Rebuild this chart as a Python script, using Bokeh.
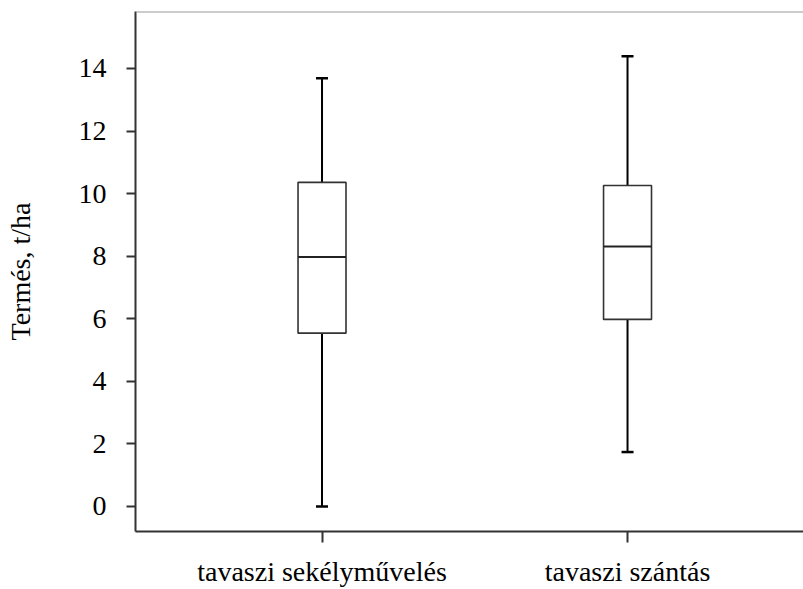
from bokeh.plotting import figure
from bokeh.models import ColumnDataSource, Whisker, TeeHead, FixedTicker, Range1d, Span
from bokeh.transform import dodge
from bokeh.embed import file_html
from bokeh.resources import INLINE

# Yield distribution per tillage method (t/ha)
categories = ["tavaszi sekélyművelés", "tavaszi szántás"]
minimum = [0.0, 1.74]
q1 = [5.54, 5.98]
median = [7.97, 8.31]
q3 = [10.36, 10.26]
maximum = [13.69, 14.39]
y_ticks = [0, 2, 4, 6, 8, 10, 12, 14]

positions = [i + 1 for i in range(len(categories))]
src = ColumnDataSource(dict(x=positions, lo=minimum, q1=q1, med=median, q3=q3, hi=maximum))

FONT = "Liberation Serif"
BOX_W = 0.157
Y_TOP = 15.82

p = figure(width=803, height=589, output_backend="svg", toolbar_location=None,
           x_range=Range1d(0.3895, 2.576), y_range=Range1d(-0.799, Y_TOP),
           min_border_left=135, min_border_right=0, min_border_top=11, min_border_bottom=58)
p.background_fill_color = "white"
p.border_fill_color = "white"
p.outline_line_color = None
p.xgrid.visible = False
p.ygrid.visible = False

# thin grey rule along the top of the plot area
p.add_layout(Span(location=Y_TOP, dimension="width", line_color="#999999", line_width=2))

# whiskers: box edge to extreme value, with short caps
p.add_layout(Whisker(source=src, base="x", lower="q3", upper="hi", dimension="height",
                     line_color="black", line_width=2,
                     upper_head=TeeHead(size=12, line_color="black", line_width=2.5),
                     lower_head=None))
p.add_layout(Whisker(source=src, base="x", lower="lo", upper="q1", dimension="height",
                     line_color="black", line_width=2,
                     lower_head=TeeHead(size=12, line_color="black", line_width=2.5),
                     upper_head=None))

# interquartile boxes and medians
p.vbar(x="x", bottom="q1", top="q3", width=BOX_W, source=src,
       fill_color="white", line_color="#333333", line_width=1.6)
p.segment(x0=dodge("x", -BOX_W / 2), x1=dodge("x", BOX_W / 2), y0="med", y1="med",
          source=src, line_color="#222222", line_width=2)

# axes
for ax in (p.xaxis[0], p.yaxis[0]):
    ax.axis_line_color = "#333333"
    ax.axis_line_width = 2
    ax.major_tick_line_color = "#333333"
    ax.major_tick_line_width = 2
    ax.major_tick_in = 0
    ax.minor_tick_line_color = None
    ax.major_label_text_font = FONT
    ax.major_label_text_color = "black"
    ax.major_label_text_font_size = "28px"

p.xaxis.ticker = FixedTicker(ticks=positions)
p.xaxis.major_label_overrides = {pos: lab for pos, lab in zip(positions, categories)}
p.xaxis.major_tick_out = 11
p.xaxis.major_label_standoff = 13

p.yaxis.ticker = FixedTicker(ticks=y_ticks)
p.yaxis.major_tick_out = 9
p.yaxis.major_label_standoff = 20
p.yaxis.axis_label = "Termés, t/ha"
p.yaxis.axis_label_text_font = FONT
p.yaxis.axis_label_text_font_style = "normal"
p.yaxis.axis_label_text_font_size = "28px"
p.yaxis.axis_label_text_color = "black"
p.yaxis.axis_label_standoff = 40

open("out.html", "w").write(file_html(p, INLINE))
